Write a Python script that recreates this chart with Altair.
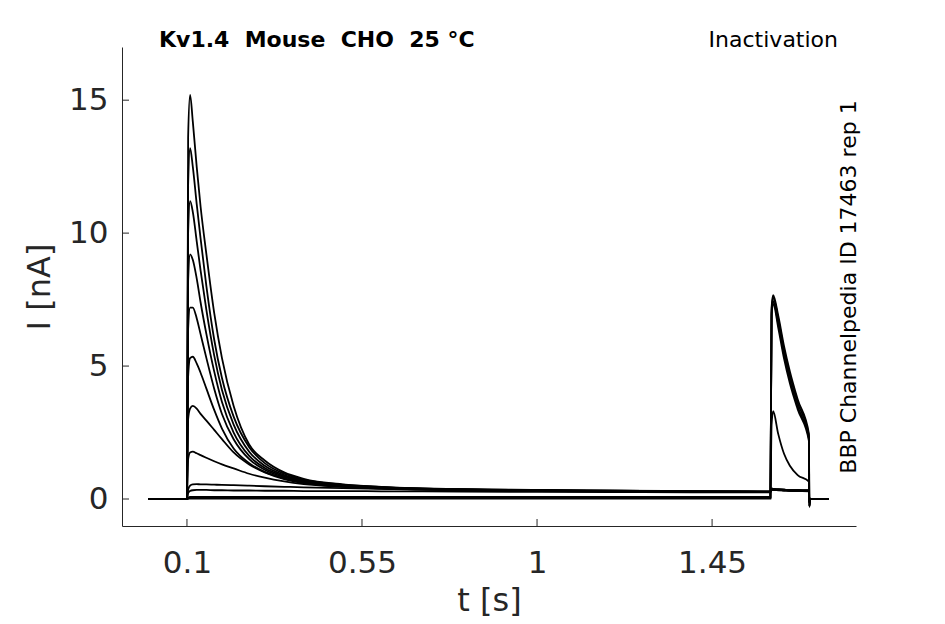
import altair as alt
import pandas as pd

# time grid [s]
T = [0.0, 0.1, 0.103, 0.108, 0.115, 0.125, 0.135, 0.15, 0.17, 0.19, 0.22, 0.26,
     0.3, 0.35, 0.4, 0.5, 0.6, 0.8, 1.0, 1.2, 1.4, 1.6, 1.603, 1.607, 1.62,
     1.635, 1.65, 1.67, 1.699, 1.7, 1.702, 1.75]

# sweeps, current [nA]
sw01 = [0.0, 0.0, 0.01, 0.02, 0.02, 0.02, 0.02, 0.02, 0.02, 0.02, 0.02, 0.02,
        0.02, 0.02, 0.02, 0.02, 0.02, 0.02, 0.02, 0.02, 0.02, 0.02, 7.2, 7.67, 6.9,
        5.75, 4.8, 3.75, 2.45, -0.3, 0.0, 0.0]
sw02 = [0.0, 0.0, 0.02, 0.04, 0.04, 0.04, 0.04, 0.04, 0.04, 0.04, 0.04, 0.04,
        0.04, 0.04, 0.04, 0.04, 0.04, 0.04, 0.04, 0.04, 0.04, 0.04, 7.1, 7.58, 6.78,
        5.6, 4.65, 3.62, 2.36, -0.28, 0.0, 0.0]
sw03 = [0.0, 0.0, 0.03, 0.06, 0.06, 0.06, 0.06, 0.06, 0.06, 0.06, 0.06, 0.06,
        0.06, 0.06, 0.06, 0.06, 0.06, 0.06, 0.06, 0.06, 0.06, 0.06, 7.0, 7.45, 6.6,
        5.42, 4.48, 3.48, 2.27, -0.27, 0.0, 0.0]
sw04 = [0.0, 0.0, 0.04, 0.08, 0.08, 0.08, 0.08, 0.08, 0.08, 0.08, 0.08, 0.08,
        0.08, 0.08, 0.08, 0.08, 0.08, 0.08, 0.08, 0.08, 0.08, 0.08, 6.9, 7.35, 6.45,
        5.28, 4.35, 3.38, 2.18, -0.26, 0.0, 0.0]
sw05 = [0.0, 0.0, 0.22, 0.3, 0.33, 0.34, 0.34, 0.34, 0.33, 0.33, 0.32, 0.32,
        0.31, 0.31, 0.3, 0.3, 0.29, 0.28, 0.27, 0.26, 0.25, 0.25, 2.8, 3.3, 2.45,
        1.7, 1.25, 0.9, 0.65, -0.2, 0.0, 0.0]
sw06 = [0.0, 0.0, 0.35, 0.5, 0.55, 0.56, 0.55, 0.55, 0.54, 0.53, 0.52, 0.5,
        0.48, 0.46, 0.44, 0.41, 0.38, 0.34, 0.31, 0.29, 0.28, 0.27, 0.4, 0.38, 0.36,
        0.35, 0.34, 0.33, 0.32, -0.12, 0.0, 0.0]
sw07 = [0.0, 0.0, 1.5, 1.75, 1.78, 1.72, 1.65, 1.55, 1.42, 1.3, 1.15, 0.95,
        0.8, 0.66, 0.56, 0.46, 0.39, 0.33, 0.3, 0.28, 0.27, 0.26, 0.36, 0.35, 0.34,
        0.33, 0.32, 0.31, 0.3, -0.12, 0.0, 0.0]
sw08 = [0.0, 0.0, 3.0, 3.4, 3.5, 3.4, 3.2, 2.95, 2.6, 2.25, 1.75, 1.3,
        1.0, 0.75, 0.6, 0.47, 0.4, 0.34, 0.31, 0.29, 0.28, 0.27, 0.35, 0.34, 0.33,
        0.32, 0.31, 0.3, 0.29, -0.12, 0.0, 0.0]
sw09 = [0.0, 0.0, 4.6, 5.3, 5.35, 5.1, 4.75, 4.15, 3.35, 2.65, 1.9, 1.35,
        1.02, 0.78, 0.62, 0.48, 0.41, 0.35, 0.31, 0.29, 0.28, 0.27, 0.36, 0.35, 0.34,
        0.33, 0.32, 0.31, 0.3, -0.12, 0.0, 0.0]
sw10 = [0.0, 0.0, 6.4, 7.2, 7.2, 6.8, 6.2, 5.3, 4.15, 3.2, 2.25, 1.5,
        1.1, 0.82, 0.65, 0.5, 0.42, 0.35, 0.32, 0.3, 0.28, 0.27, 0.36, 0.35, 0.34,
        0.33, 0.32, 0.31, 0.3, -0.12, 0.0, 0.0]
sw11 = [0.0, 0.0, 8.2, 9.2, 9.0, 8.3, 7.4, 6.2, 4.8, 3.65, 2.5, 1.62,
        1.17, 0.86, 0.68, 0.51, 0.43, 0.36, 0.32, 0.3, 0.29, 0.28, 0.37, 0.36, 0.35,
        0.34, 0.33, 0.32, 0.31, -0.12, 0.0, 0.0]
sw12 = [0.0, 0.0, 10.0, 11.2, 10.8, 9.7, 8.6, 7.1, 5.4, 4.1, 2.8, 1.78,
        1.25, 0.9, 0.7, 0.52, 0.44, 0.36, 0.33, 0.31, 0.29, 0.28, 0.37, 0.36, 0.35,
        0.34, 0.33, 0.32, 0.31, -0.12, 0.0, 0.0]
sw13 = [0.0, 0.0, 11.8, 13.2, 12.5, 11.1, 9.8, 8.0, 6.0, 4.55, 3.1, 1.95,
        1.35, 0.95, 0.73, 0.54, 0.45, 0.37, 0.33, 0.31, 0.29, 0.28, 0.38, 0.37, 0.36,
        0.35, 0.34, 0.33, 0.32, -0.12, 0.0, 0.0]
sw14 = [0.0, 0.0, 13.6, 15.2, 14.2, 12.5, 11.0, 9.2, 7.0, 5.3, 3.5, 2.05,
        1.45, 1.0, 0.76, 0.55, 0.46, 0.37, 0.34, 0.31, 0.3, 0.29, 0.38, 0.37, 0.36,
        0.35, 0.34, 0.33, 0.32, -0.12, 0.0, 0.0]

SWEEPS = [sw01, sw02, sw03, sw04, sw05, sw06, sw07, sw08, sw09, sw10, sw11,
          sw12, sw13, sw14]

X_TICKS = [0.1, 0.55, 1, 1.45]
Y_TICKS = [0, 5, 10, 15]
X_DOMAIN = [-0.067, 1.82]
Y_DOMAIN = [-1.015, 17]

TITLE_LEFT = "Kv1.4\u00a0\u00a0Mouse\u00a0\u00a0CHO\u00a0\u00a025 °C"
TITLE_RIGHT = "Inactivation"
SIDE_TEXT = "BBP Channelpedia ID 17463 rep 1"
X_TITLE = "t [s]"
Y_TITLE = "I [nA]"

rows = []
for k, vals in enumerate(SWEEPS):
    for t, v in zip(T, vals):
        rows.append({"t": t, "I": v, "sweep": k})
df = pd.DataFrame(rows)

W, H = 734, 479
AX = "#262626"
FONT = "DejaVu Sans"

xs = alt.Scale(domain=X_DOMAIN, nice=False, zero=False)
ys = alt.Scale(domain=Y_DOMAIN, nice=False, zero=False)

x_axis = alt.Axis(
    values=X_TICKS, format=".2~f", title=X_TITLE, grid=False,
    ticks=False, tickSize=0, domainColor=AX, domainWidth=1,
    labelFontSize=31, labelColor=AX, labelFont=FONT,
    labelBaseline="alphabetic", labelPadding=46,
    titleFontSize=32, titleColor=AX, titleFont=FONT, titleFontWeight="normal",
    titleX=W / 2, titleY=84, titleBaseline="alphabetic", titleAlign="center")
y_axis = alt.Axis(
    values=Y_TICKS, title=Y_TITLE, grid=False,
    ticks=False, tickSize=0, domainColor=AX, domainWidth=1,
    labelFontSize=31, labelColor=AX, labelFont=FONT, labelPadding=14,
    titleFontSize=32, titleColor=AX, titleFont=FONT, titleFontWeight="normal",
    titleAngle=-90, titleX=-83, titleY=H / 2, titleBaseline="middle",
    titleAlign="center")

lines = alt.Chart(df).mark_line(color="black", strokeWidth=1.8, clip=True,
                                interpolate="monotone").encode(
    x=alt.X("t:Q", scale=xs, axis=x_axis),
    y=alt.Y("I:Q", scale=ys, axis=y_axis),
    detail="sweep:N",
)

xt = alt.Chart(pd.DataFrame({"t": X_TICKS})).mark_rule(color=AX, strokeWidth=1).encode(
    x=alt.X("t:Q", scale=xs, axis=x_axis), y=alt.value(H), y2=alt.value(H - 7))
yt = alt.Chart(pd.DataFrame({"I": Y_TICKS})).mark_rule(color=AX, strokeWidth=1).encode(
    y=alt.Y("I:Q", scale=ys, axis=y_axis), x=alt.value(0), x2=alt.value(7))

t_left = alt.Chart(pd.DataFrame({"s": [TITLE_LEFT]})).mark_text(
    font=FONT, fontSize=22, fontWeight="bold", color="black", align="left",
    baseline="alphabetic").encode(text="s:N", x=alt.value(37), y=alt.value(0))
t_right = alt.Chart(pd.DataFrame({"s": [TITLE_RIGHT]})).mark_text(
    font=FONT, fontSize=22, color="black", align="right",
    baseline="alphabetic").encode(text="s:N", x=alt.value(716), y=alt.value(0))
t_side = alt.Chart(pd.DataFrame({"s": [SIDE_TEXT]})).mark_text(
    font=FONT, fontSize=22, color="black", align="center", baseline="middle",
    angle=270).encode(text="s:N", x=alt.value(727), y=alt.value(240))

chart = alt.layer(lines, xt, yt, t_left, t_right, t_side).properties(
    width=W, height=H, autosize="none",
    padding={"left": 114, "top": 39, "right": 70, "bottom": 92},
).configure_view(stroke=None)

chart.save("out.html", embed_options={"renderer": "svg", "actions": False})
